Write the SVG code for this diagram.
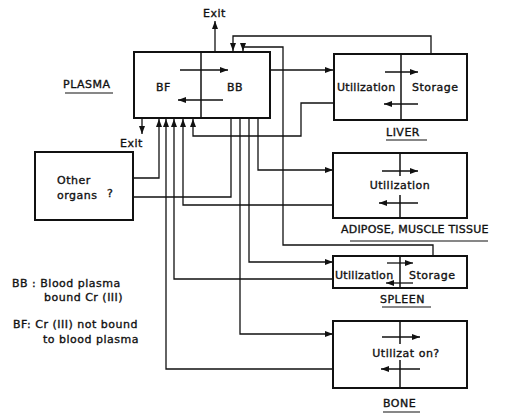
<svg xmlns="http://www.w3.org/2000/svg" width="507" height="416" viewBox="0 0 507 416">
<defs>
<marker id="ah" markerUnits="userSpaceOnUse" markerWidth="8" markerHeight="6" refX="8" refY="3" orient="auto">
<path d="M0,0 L8,3 L0,6 z" fill="#111"/>
</marker>
<style>
.box{fill:#fff;stroke:#111;stroke-width:2}
.div{stroke:#111;stroke-width:1.5;fill:none}
.c{fill:none;stroke:#111;stroke-width:1.3}
.ia{fill:none;stroke:#111;stroke-width:1.3}
text{font-family:"DejaVu Sans","Liberation Sans",sans-serif;font-size:11px;fill:#111;stroke:#111;stroke-width:0.35;letter-spacing:0.5px}
.ul{stroke:#111;stroke-width:1.2}
</style>
</defs>
<rect width="507" height="416" fill="#fff"/>

<g id="connectors">
<path class="c" d="M270,70 H333" marker-end="url(#ah)"/>
<path class="c" d="M334,103 H301 V136 H193 V119" marker-end="url(#ah)"/>
<path class="c" d="M431,54 V36 H233 V51" marker-end="url(#ah)"/>
<path class="c" d="M433,256 V245 H283 V47 H243 V51" marker-end="url(#ah)"/>
<path class="c" d="M258,118 V170 H333" marker-end="url(#ah)"/>
<path class="c" d="M249,118 V262 H333" marker-end="url(#ah)"/>
<path class="c" d="M240,118 V334 H333" marker-end="url(#ah)"/>
<path class="c" d="M231,118 V197 H134"/>
<path class="c" d="M133,178 H159 V119" marker-end="url(#ah)"/>
<path class="c" d="M333,369 H166 V119" marker-end="url(#ah)"/>
<path class="c" d="M333,279 H174 V119" marker-end="url(#ah)"/>
<path class="c" d="M333,205 H183 V119" marker-end="url(#ah)"/>
<path class="c" d="M215,52 V21" marker-end="url(#ah)"/>
<path class="c" d="M142,118 V134" marker-end="url(#ah)"/>
</g>

<g id="exit-top"><text x="203" y="17">Exit</text></g>
<g id="exit-bottom"><text x="120" y="147">Exit</text></g>

<g id="plasma">
<rect class="box" x="134" y="52" width="136" height="66"/>
<line class="div" x1="201" y1="52" x2="201" y2="118"/>
<path class="ia" d="M180,70 H228" marker-end="url(#ah)"/>
<path class="ia" d="M223,100 H178" marker-end="url(#ah)"/>
<text x="156" y="91">BF</text>
<text x="227" y="91">BB</text>
<text x="63" y="88">PLASMA</text>
<line class="ul" x1="65" y1="93" x2="113" y2="93"/>
</g>

<g id="liver">
<rect class="box" x="334" y="54" width="133" height="66"/>
<line class="div" x1="401" y1="54" x2="401" y2="120"/>
<path class="ia" d="M385,72 H418" marker-end="url(#ah)"/>
<path class="ia" d="M418,104 H384" marker-end="url(#ah)"/>
<text x="337" y="91" style="letter-spacing:0.3px">Utilization</text>
<text x="412" y="91">Storage</text>
<text x="386" y="136">LIVER</text>
<line class="ul" x1="386" y1="140" x2="427" y2="140"/>
</g>

<g id="other-organs">
<rect class="box" x="35" y="152" width="98" height="68"/>
<text x="57" y="184">Other</text>
<text x="57" y="199">organs</text>
<text x="107" y="197">?</text>
</g>

<g id="adipose">
<rect class="box" x="333" y="153" width="134" height="65"/>
<line class="div" x1="400" y1="153" x2="400" y2="176"/>
<line class="div" x1="400" y1="195" x2="400" y2="218"/>
<path class="ia" d="M382,171 H418" marker-end="url(#ah)"/>
<path class="ia" d="M418,203 H379" marker-end="url(#ah)"/>
<text x="400" y="189" text-anchor="middle">Utilization</text>
<text x="341" y="233" style="letter-spacing:0.2px">ADIPOSE, MUSCLE TISSUE</text>
<line class="ul" x1="350" y1="241" x2="488" y2="241"/>
</g>

<g id="spleen">
<rect class="box" x="333" y="256" width="134" height="32"/>
<line class="div" x1="400" y1="256" x2="400" y2="288"/>
<path class="ia" d="M387,263 H413" marker-end="url(#ah)"/>
<path class="ia" d="M413,283 H386" marker-end="url(#ah)"/>
<text x="335" y="279" style="letter-spacing:0.3px">Utilization</text>
<text x="409" y="279">Storage</text>
<text x="380" y="303">SPLEEN</text>
<line class="ul" x1="382" y1="307" x2="431" y2="307"/>
</g>

<g id="bone">
<rect class="box" x="333" y="321" width="134" height="67"/>
<line class="div" x1="400" y1="321" x2="400" y2="344"/>
<line class="div" x1="400" y1="360" x2="400" y2="388"/>
<path class="ia" d="M382,337 H420" marker-end="url(#ah)"/>
<path class="ia" d="M420,369 H381" marker-end="url(#ah)"/>
<text x="406" y="357" text-anchor="middle">Utilizat on?</text>
<text x="383" y="407">BONE</text>
<line class="ul" x1="383" y1="412" x2="420" y2="412"/>
</g>

<g id="legend">
<text x="12" y="287">BB : Blood plasma</text>
<text x="44" y="301">bound Cr (III)</text>
<text x="13" y="328">BF: Cr (III) not bound</text>
<text x="43" y="343">to blood plasma</text>
</g>
</svg>
